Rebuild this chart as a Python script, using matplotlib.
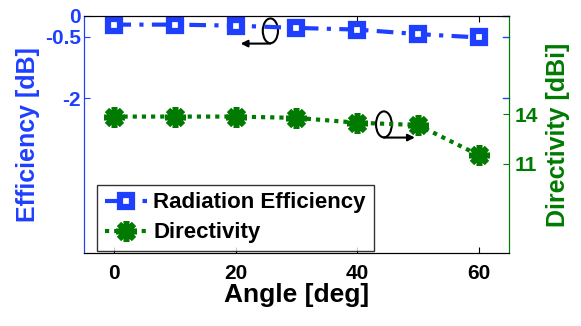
import numpy as np
import matplotlib.pyplot as plt
from matplotlib.patches import Ellipse

plt.rcParams['font.family'] = ['Liberation Sans', 'DejaVu Sans']
plt.rcParams['font.weight'] = 'bold'
plt.rcParams['axes.labelweight'] = 'bold'

# data
angle = [0, 10, 20, 30, 40, 50, 60]
efficiency = [-0.21, -0.21, -0.235, -0.29, -0.33, -0.44, -0.52]
directivity = [13.86, 13.86, 13.86, 13.78, 13.49, 13.35, 11.54]

xticks = [0, 20, 40, 60]
eff_ticks = [0, -0.5, -2]
eff_ticklabels = ['0', '-0.5', '-2']
dir_ticks = [11, 14]

blue = '#1f3fff'
green = '#007a00'

fig = plt.figure(figsize=(5.81, 3.26), dpi=100)
ax = fig.add_axes([0.1446, 0.224, 0.7314, 0.727])
ax2 = ax.twinx()

l1, = ax.plot(angle, efficiency, color=blue, lw=3, ls=(0, (4, 2, 1, 2)),
              marker='s', ms=8, mfc='white', mec=blue, mew=4.5,
              label='Radiation Efficiency')
l2, = ax2.plot(angle, directivity, color=green, lw=3, ls=(0, (1, 1.2)),
               marker=(8, 2, 0), ms=15, mec=green, mew=4,
               label='Directivity')

ax.set_xlim(-5, 65)
ax.set_ylim(-5.75, 0)
ax2.set_ylim(5.63, 19.93)

ax.set_xticks(xticks)
ax.set_yticks(eff_ticks)
ax.set_yticklabels(eff_ticklabels)
ax2.set_yticks(dir_ticks)

ax.tick_params(axis='x', direction='in', top=True, labelsize=15, length=4, pad=8)
ax.tick_params(axis='y', direction='in', colors=blue, labelsize=15, length=4, pad=2)
ax2.tick_params(axis='y', direction='in', colors=green, labelsize=15, length=4, pad=4)
# mirror of the efficiency ticks on the right side
for t in eff_ticks:
    ax.plot([1.0, 0.985], [t, t], color=blue, lw=1, transform=ax.get_yaxis_transform(),
            clip_on=False)

ax.spines['left'].set_color(blue)
ax2.spines['left'].set_color(blue)
ax2.spines['right'].set_color(green)
ax.spines['right'].set_color(green)

ax.set_xlabel('Angle [deg]', fontsize=19, labelpad=0)
ax.set_ylabel('Efficiency [dB]', fontsize=18, color=blue, labelpad=4)
ax2.set_ylabel('Directivity [dBi]', fontsize=18, color=green, labelpad=6)

# annotations
ax.add_patch(Ellipse((25.7, -0.36), 2.5, 0.6, fill=False, ec='black', lw=1.5))
ax.annotate('', xy=(20.8, -0.67), xytext=(25.7, -0.67),
            arrowprops=dict(arrowstyle='-|>', color='black', lw=1.5,
                            shrinkA=0, shrinkB=0))
ax.add_patch(Ellipse((44.4, -2.63), 2.6, 0.63, fill=False, ec='black', lw=1.5))
ax.annotate('', xy=(49.5, -2.95), xytext=(44.4, -2.95),
            arrowprops=dict(arrowstyle='-|>', color='black', lw=1.5,
                            shrinkA=0, shrinkB=0))

leg = ax2.legend(handles=[l1, l2], loc='lower left', bbox_to_anchor=(0.03, 0.008),
                 fontsize=16, frameon=True, fancybox=False, edgecolor='black',
                 handlelength=1.9, handletextpad=0.3, borderpad=0.35,
                 labelspacing=0.4, borderaxespad=0)
leg.get_frame().set_linewidth(1)

fig.savefig('out.png', dpi=100)
